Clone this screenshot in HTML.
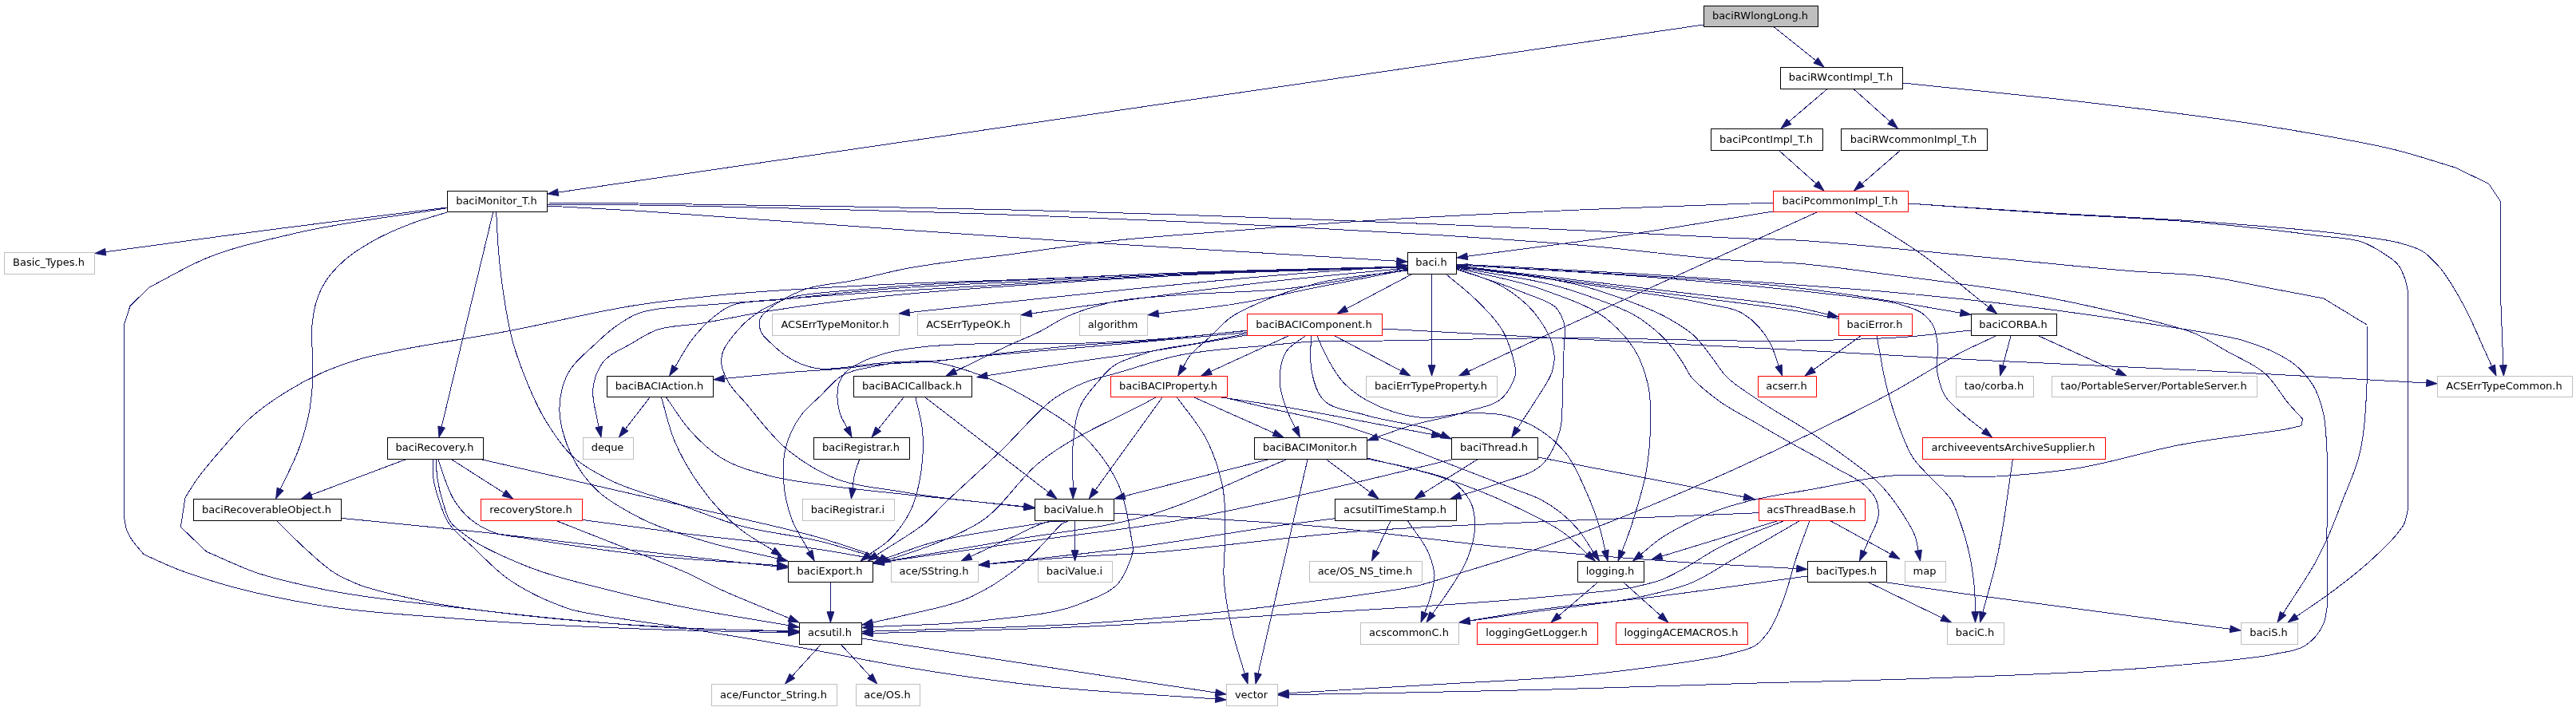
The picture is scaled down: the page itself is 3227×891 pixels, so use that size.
<!DOCTYPE html>
<html><head><meta charset="utf-8"><title>baciRWlongLong.h include graph</title>
<style>html,body{margin:0;padding:0;background:#fff}svg{display:block}text{font-family:"DejaVu Sans","Liberation Sans",sans-serif;font-size:13px;fill:#000;text-anchor:middle}.e path{fill:none;stroke:#191970;stroke-width:1;shape-rendering:crispEdges}.e polygon{fill:#191970;stroke:#191970;stroke-width:1}.n rect{stroke-width:1;shape-rendering:crispEdges}.t{filter:grayscale(1)}</style></head><body>
<svg width="3227" height="891" viewBox="0 0 3227 891">
<rect width="3227" height="891" fill="#fff"/>
<g class="e">
<path d="M2134,31L699.2,241.1"/>
<path d="M2222.5,34L2274.6,75.7"/>
<path d="M2288.5,112L2241.1,152.4"/>
<path d="M2322.5,112L2367.6,152.2"/>
<path d="M2384,104C2468.3,113 2552.8,120.8 2637,131C2703.8,139.1 2770.6,146.7 2837,157.5C2893.9,166.7 2965.2,178.3 3006.9,189.4C3030,195.5 3052.8,203.1 3075.8,210L3117.7,230.3L3132.4,252.4L3132.4,366.7C3133.6,397 3134.7,427.4 3135.9,457.7"/>
<path d="M2229,189L2275.1,230.1"/>
<path d="M2380,189L2332.5,230.3"/>
<path d="M2221,265C2158.3,275 2095.8,285.8 2033,295C1968.2,304.5 1903.1,312.5 1838.2,321.2"/>
<path d="M2276,266C2159.3,319 1977.9,400.9 1926,425C1897.2,438.4 1868.4,451.9 1839.6,465.4"/>
<path d="M2324,266C2349.3,281.9 2375.4,296.6 2400,313.6C2431.7,335.5 2460.7,361.1 2491.1,384.8"/>
<path d="M2391,255C2449.7,258.9 2508.3,263 2567,266.7C2633.9,270.9 2700.9,273.4 2767.7,278.4C2823.4,282.6 2890.4,287.4 2934.6,293.4C2959.1,296.8 2991.7,299.9 3008,305C3017.1,307.8 3026.9,310.1 3034.8,315C3042.4,319.7 3048.7,326.9 3054.8,333.5C3065.8,345.5 3075.9,363.9 3084.9,380C3095.1,398.3 3105.6,423.9 3111.6,437C3114.9,444.3 3118.2,451.6 3121.5,458.9"/>
<path d="M2391,255C2449.7,259.1 2508.3,263.5 2567,267.4C2633.9,271.9 2701,273.8 2767.7,280C2812.2,284.1 2864.9,290 2901,295C2921,297.8 2946.2,297.9 2961,304C2969.2,307.4 2977.2,311.9 2984.7,316.8C2991.6,321.4 2999.5,325.7 3004.4,332.2C3008.2,337.2 3010.7,343.5 3012.8,349.5C3014.7,355 3015.4,361 3016.7,366.7L3016.7,637C3014.9,643.7 3014.4,650.9 3011.4,657C3008.9,662 3004.9,666.3 3001.4,670.7C2995.1,678.6 2979.6,693.4 2968,704C2952.2,718.3 2935.2,731.3 2918,744C2904.6,753.9 2890.6,763 2876.9,772.4"/>
<path d="M2221,254C2144,256.8 2067,259.2 1990,262.5C1898.3,266.5 1806.6,270.5 1715,276.5C1654.8,280.4 1594.7,285.2 1534.6,290C1487.7,293.7 1440.7,296.7 1394,301.8C1351.7,306.4 1309.6,312.8 1267.4,318.5C1222.9,324.5 1174.4,328.9 1134,336.8C1111.5,341.2 1089.4,347.3 1067,351.9C1046.9,356 1025.3,356 1006.4,363.3C991.6,369 972.7,379 964.4,386.6C959.8,390.8 953.1,395 951.6,400.6C950.5,404.7 951.4,410.3 952.8,414.5C955.2,421.9 963.1,427.3 969,433C973.4,437.2 978,441.3 983,444.8C991.5,450.8 1001.1,455.8 1011,458.8C1017,460.6 1023.4,461.8 1029.6,462.3C1037.3,462.9 1045.2,461.6 1053,461C1067,459.9 1084,456.6 1099.5,455.3C1115,454 1132,452.8 1146,453C1153.8,453.1 1161.7,453.1 1169.4,454C1183.3,455.5 1200.8,460.8 1216,465.8C1243.3,474.7 1274.2,490.4 1300.8,506.8C1324.4,521.3 1349.3,536.4 1367.6,556.9C1380.8,571.6 1392.8,589 1401,607C1410.7,628.4 1416.6,670.3 1417.7,676.7C1418.3,680.3 1419.2,683.9 1419.4,687.4C1419.8,693.7 1410.6,719.5 1401,730.8C1389.4,744.3 1368.3,750.4 1351,757.5C1319.9,770.2 1273.2,772.8 1234,777.5C1187.4,783.1 1140.2,783 1093.3,785.7"/>
<path d="M560,260C484.7,269.5 409.3,278.7 334,288.5C266.7,297.3 199.5,306.6 132.2,315.7"/>
<path d="M560,260.7C495.7,271.5 430.4,277.9 367,293C331,301.6 294.2,309.1 260,323C234.8,333.2 211.3,347.7 187,360L163,383.5L155.3,407L155.3,647C156.4,652.6 156.7,658.4 158.6,663.7C159.9,667.3 161.7,670.7 163.6,674C167,679.9 174.5,687.8 180,694.7C193.3,700.6 206.5,707 220,712.4C238.6,719.8 257.8,725.8 277,731.5C311.5,741.7 354.7,750.7 394,757.5C451.2,767.3 509.7,770.1 567.6,774.9C664.8,782.9 783.4,787.7 860,790C902.6,791.3 945.1,791.8 987.7,792.7"/>
<path d="M560,266C545.8,270.5 531.4,274.2 517.5,279.4C500.4,285.8 483.3,292.8 467.5,301.8C454.7,309.1 441.6,316.9 430.7,326.8C422,334.7 413.4,343.5 407.3,353.5C402.3,361.6 398.4,370.8 395.7,380C393.4,387.6 392.4,395.7 391.3,403.6C389.3,417.8 393,463.3 391.3,483.4C390.4,494.6 389.3,505.8 387.3,516.8C384.3,532.7 379.6,548.4 374,563.5C368.5,578.4 355.7,603.4 354,607C353.1,609 352.1,611 351.2,612.9"/>
<path d="M617.7,266L553.1,535.1"/>
<path d="M621.7,266C622.6,281.8 623.1,297.7 624.4,313.5C626,332.4 628.1,351.3 631,370C634.1,390.1 637.2,410.4 642.8,430C646.7,443.8 651.7,457.4 657,470.8C664.2,488.9 671.7,507.1 681.6,523.8C692,541.2 703.4,559.4 718.3,572.8C731.2,584.4 747.5,592.9 763,601C788.5,614.3 817.5,620.4 844.8,630C871.9,639.5 898.5,650.8 926,658.5C959.9,668 995.8,670.4 1030,679C1054.6,685.2 1078.8,693.2 1103.2,700.3"/>
<path d="M686,258C724,260.1 762,262.1 800,264.3C868.4,268.3 1153.3,290.3 1330,301.7C1440,308.8 1606.2,318.4 1660,321.7C1689.9,323.5 1719.8,325.4 1749.7,327.2"/>
<path d="M686,254C724,254.3 762,254.6 800,255C868.4,255.7 1126.7,259.2 1290,263.5C1393.3,266.2 1496.7,269.7 1600,273.4C1666.7,275.8 1733.3,278.3 1800,281C1862,283.5 1924,286.1 1986,289C2048.3,291.9 2126.8,296.6 2173,298.4C2198.7,299.4 2224.4,299.8 2250,301C2296.2,303.2 2405.4,314.8 2483,322C2545,327.7 2609.8,334.8 2669,339.6C2701.9,342.3 2735.1,342.5 2767.7,346.9C2795.3,350.6 2822.6,357.2 2850,362.4C2870.3,366.2 2890.5,370.1 2910.8,374L2965,407C2965.1,418 2965.3,429 2965.3,440C2965.3,456.7 2965.6,473.4 2964.7,490C2963.2,518 2961.9,546.7 2954.7,573.6C2949.8,591.8 2941.5,609.3 2934.6,627C2928.1,643.6 2922.1,660.5 2914.6,676.7C2910.3,685.9 2905.8,695 2901,704C2892.4,720.1 2873.7,747.2 2860.1,768.8"/>
<path d="M686,256C724,256.3 762,256.5 800,257C868.4,257.8 1126.7,264 1290,270C1393.4,273.8 1496.7,278.2 1600,283.4C1666.7,286.8 1733.4,290.2 1800,294.5C1862,298.5 1924.1,302.5 1986,307.8C2048.4,313.1 2126.9,323.5 2173,326.4C2198.6,328 2224.4,328.1 2250,330C2289.1,333 2328.1,339.1 2367,344.2C2437.1,353.4 2523.8,363.3 2600.7,380C2652.3,391.2 2732.8,409.2 2754.3,420C2766.3,426 2777.7,433.3 2789.4,440C2805.6,449.3 2824.1,456.1 2837.8,468.4C2849.7,479.1 2858.1,495.6 2867.8,506.8C2873.2,513 2878.9,518.9 2884.5,525L2882.9,533.5L2861,538.5C2818.7,544.6 2776,549.2 2734,556.9C2689.2,565.1 2645.6,580.1 2600.7,587C2567.6,592.1 2534,595.2 2500.6,597C2456.2,599.4 2411.2,592 2367,596.3C2333.7,599.5 2300.8,607.7 2267.8,613.6C2243.3,618 2218.4,621 2194.3,627C2179.4,630.7 2164.4,634.7 2150,640C2124.7,649.3 2091.1,666.8 2077.5,676.7C2070,682.2 2063,688.6 2055.8,694.6"/>
<path d="M1763,334C1675.3,336.3 1587.6,337.9 1500,341C1429.3,343.5 1358.7,347.2 1288,350C1225.3,352.5 1162.6,353.8 1100,357C1033.3,360.4 960.1,363.9 900,370C866.6,373.4 833.2,377 800,382C744.4,390.3 689.7,405 634.4,415.3C590,423.6 530.9,432.3 500.8,438.7C484.1,442.2 467.2,445.2 450.8,450C433.8,455 416.9,461.1 400.7,468.4C385.8,475.2 371.2,483.1 357.3,491.8C342.2,501.3 327.2,511.6 313.9,523.5C300.4,535.5 288.9,549.8 277.1,563.5C266.7,575.5 256.1,587.4 247,600.3C241.7,607.8 237,615.8 232,623.6L226.4,660.4L258.8,691.4C279.4,700.1 299.5,710.1 320.5,717.4C348.6,727.1 378.1,732.9 407.3,739C459.8,749.9 514.1,754.4 567.6,760.8C664,772.4 783.5,784.1 860,787.5C902.5,789.4 945.1,789.6 987.7,790.7"/>
<path d="M1763,335C1675.3,337.7 1587.6,339.1 1500,343C1429.3,346.2 1358.7,350.9 1288,355C1225.3,358.6 1162.6,361.8 1100,366C1033.3,370.4 948,377.1 900,381C873.3,383.2 832.1,385.3 820,387.8C813.3,389.2 806.4,390.3 800,392.6C789.2,396.5 779.3,403.3 770,410C761.8,415.9 754.3,423 746.9,430C733.6,442.6 717.6,454.8 710,470.8C703.7,484.1 700.7,500.8 701,515.7C701.3,529.3 705.3,543.6 710,556.5C717.1,575.7 728.8,594.7 742.8,609.5C757.2,624.8 777.1,635.8 795.8,646C823.5,661.2 855.1,669.9 885.6,679C914.6,687.7 944.6,693 974.1,699.9"/>
<path d="M1763,335C1675.3,338 1587.6,339.7 1500,344C1433.3,347.3 1366.6,351.3 1300,356C1233.3,360.7 1166.5,364.7 1100,372C1049.9,377.5 992.1,384.9 950,392C926.6,396 903.4,401 880,405C860,408.4 837.7,407.4 820,414.5C810.2,418.5 801,424.5 791.8,430C779.2,437.5 763.3,443.2 755,454.5C748.5,463.4 744,475.8 742.8,487C741.6,497.6 745.2,510.6 746.9,519.8C747.9,524.9 749.1,529.9 750.2,535"/>
<path d="M1763,334C1675.3,336.7 1587.6,338.4 1500,342C1433.3,344.8 1366.7,348.5 1300,352C1233.3,355.5 1166.5,357.4 1100,363C1060.9,366.3 1021.9,370.3 983,375C959.6,377.8 927.6,376.7 913,384.3C904.9,388.5 897.1,394.5 890,400.6C881.3,408.1 873.6,416.9 866.6,426C858.6,436.4 852.7,448.5 845.7,459.7"/>
<path d="M1763,334C1675.3,336.3 1587.6,337.8 1500,341C1433.3,343.5 1366.7,346.7 1300,350C1233.3,353.3 1166.4,354.6 1100,361C1060.9,364.7 1003,367.1 983,375C971.9,379.4 960.4,384.3 950.4,391C938.2,399.2 926.6,409.8 917.8,421.5C912.9,428 907,434.8 905,442.5C903.9,446.9 903.5,451.9 903.9,456.5C904.6,464.6 909,472.6 913,479.8C918.3,489.2 926.9,496.7 934,505C946.8,520 967,548 987.6,564.6C1003.4,577.3 1021.5,588.7 1040,597C1068.8,609.9 1102.5,611.4 1134,617C1183.2,625.7 1233.2,629.2 1282.8,635.4"/>
<path d="M1763,333C1708.7,337 1654.3,340.5 1600,345C1539.9,350 1480,356.1 1420,362C1326.3,371.2 1232.8,381.7 1139.2,391.6"/>
<path d="M1763,336C1708.7,341.3 1654.2,345.9 1600,352C1539.9,358.7 1479.9,366.9 1420,375C1377.4,380.7 1334.8,386.9 1292.2,392.9"/>
<path d="M1763,338C1725.3,345.3 1687.6,352.5 1650,360C1617.5,366.5 1585.2,374.5 1552.5,380C1518.9,385.6 1485,388.7 1451.2,393"/>
<path d="M1763,337C1712.9,345.2 1663.1,356.2 1612.7,361.7C1566.4,366.8 1519.4,365.8 1473,370C1445.8,372.5 1417.9,372.8 1391.4,379C1372.6,383.4 1353.6,389 1336,397C1323.9,402.5 1312.9,410.4 1301,416.3C1289.4,422 1277.3,426.6 1265.5,432C1244.3,441.7 1219.8,454.1 1197,465.2"/>
<path d="M1763,339C1725.3,344.3 1686.7,345.6 1650,355C1625,361.4 1597.7,370.3 1576.3,380C1564.4,385.4 1551.9,390.4 1541.4,398C1532.7,404.4 1525.5,413 1517.6,420.5C1508.3,429.3 1494.5,439.9 1489.6,447C1486.9,450.9 1484.8,455.3 1482.4,459.5"/>
<path d="M1768,344L1686.8,386.8"/>
<path d="M1793.6,344L1793.6,457.7"/>
<path d="M1812,344C1824.8,355 1838.6,365 1850.4,377C1862.6,389.3 1875.7,401.9 1883.8,417C1890,428.6 1895.6,448.1 1897,455C1897.8,458.9 1898.8,462.9 1898.8,466.7C1898.8,473.5 1890.9,489 1883.8,496.8C1872.4,509.3 1850.7,511.1 1833.7,516.8C1812,524 1788.9,526.8 1767,533.5C1753.1,537.8 1739.4,542.9 1725.6,547.6"/>
<path d="M1825,336.8C1844.6,344.5 1866.1,349.1 1883.8,360C1897.1,368.2 1910.4,378.2 1920.5,390C1930.4,401.6 1940.8,418.5 1944,430C1945.8,436.4 1947.4,443.4 1947.2,450C1947,455.6 1945.5,461.3 1944,466.7C1941.2,476.4 1928.7,493.6 1920.5,506.8C1914.2,516.9 1907.5,526.8 1901,536.8"/>
<path d="M1825,337.5C1850.2,346.2 1876,353.3 1900.5,363.5C1917.5,370.6 1944.3,378.4 1950.6,387C1954.1,391.8 1957.1,397.8 1959,403.6C1962.3,414 1959.2,427.9 1959,440C1958.8,456.7 1958.1,473.3 1957.3,490C1956.5,506.7 1958.5,524.2 1954,540C1950,554.1 1943.5,569.6 1934,580C1920,595.4 1894.4,599.4 1873.8,607C1859.4,612.3 1844.4,616.3 1829.7,621"/>
<path d="M1825,336C1861.3,345.2 1899.1,350.5 1934,363.5C1962.8,374.2 1994.8,383.6 2017.4,403.6C2030.2,414.9 2042.6,428.6 2050.8,443.7C2056.8,454.9 2060.8,467.7 2064,480C2069.8,502.1 2068.4,555.4 2062.4,590C2059,609.2 2053,629.1 2047.4,647C2044.3,657 2040.6,668.3 2037.4,676.7C2035.6,681.4 2033.7,686 2031.9,690.6"/>
<path d="M1825,335C1872.4,344.5 1921.5,348.6 1967.3,363.5C1997.5,373.3 2037.4,387.2 2055.7,400C2065.9,407.1 2076,415.1 2084.6,424C2093.7,433.4 2103.3,446.9 2108.6,455.4C2111.6,460.1 2113.8,465.4 2116.9,470C2122.6,478.2 2138.6,491.3 2150.6,500.4C2166.2,512.3 2184.3,520.8 2201.3,530.8C2215.8,539.3 2230.4,547.7 2245,556C2264.1,566.8 2283.6,576.9 2302.5,588C2313.9,594.6 2327.1,599.5 2336.3,608.4C2341.4,613.4 2347,618.9 2349.8,625.3C2352.5,631.4 2353.5,638.9 2353.2,645.5C2352.7,654.8 2346.7,663.6 2343,672.5C2340.4,678.7 2337.6,684.7 2334.9,690.8"/>
<path d="M1825,334C1883.5,343.8 1944.7,345.9 2000.6,363.5C2031.7,373.3 2073.9,389.4 2091.8,400C2101.7,405.9 2112.1,411.7 2120.7,419.3C2129.9,427.5 2137.1,438.1 2144.7,448C2150.3,455.2 2154.8,463.3 2160.8,470C2171.7,482 2187.5,490.7 2201.3,500.4C2223,515.6 2246.7,527.9 2268.8,542.6C2285.9,554 2303,565.6 2319.4,578C2330.9,586.7 2343.1,594.9 2353.2,605C2363.3,615.1 2372.3,626.8 2380.2,638.8C2388,650.5 2398.2,667.9 2400.4,676C2401.6,680.5 2402.2,685.3 2403,689.9"/>
<path d="M1825,333.5C1894.7,343.5 1973.8,354 2034,363.5C2067.4,368.8 2103.9,372.9 2134.2,380C2151,384 2170.2,384.8 2184.3,393.6C2197.8,402 2209.9,416 2217.7,430.3C2222.4,439 2224.6,449.1 2228.1,458.5"/>
<path d="M1825,333C1900,342 1975,350.8 2050,360C2116.7,368.2 2225.9,380 2250,385C2263.4,387.8 2276.7,391 2290,394.1"/>
<path d="M2303,399.5C2285.3,396.2 2267.7,392.8 2250,389.7C2218.1,384.2 2116.7,371.9 2050,363C1979.4,353.6 1908.8,344.2 1838.2,334.8"/>
<path d="M1825,332C1900,336.3 1975.1,339.9 2050,345C2116.7,349.5 2183.6,352.7 2250,360.5C2288.9,365.1 2327.8,370.9 2366.5,377C2396.3,381.7 2426.1,387.1 2455.9,392.1"/>
<path d="M1825,332C1900,336.7 1975.1,340.2 2050,346C2116.7,351.1 2208,359.5 2250,364C2273.3,366.5 2296.7,368.8 2320,372C2340.2,374.8 2363.2,376 2380.4,381.5C2389.9,384.6 2400.7,386.9 2408.4,393C2413.9,397.3 2419.3,403.2 2422.4,409.5C2425.5,415.7 2426,423.4 2427,430.4C2428.6,442.3 2425,454.9 2427,466.7C2428.8,477 2431.6,488 2437,496.8C2442.6,505.9 2452.3,512.7 2460.5,520C2468.3,527 2476.9,533.1 2485.1,539.7"/>
<path d="M1825,331C1900,335 1975,338.3 2050,343C2116.7,347.1 2183.4,352 2250,357C2289,359.9 2328,362.5 2367,366C2437.1,372.2 2511.9,380.2 2584,390C2659.9,400.3 2789.8,419.8 2811,427C2822.8,431 2834.8,434.6 2846,440C2855.9,444.8 2866.1,449.8 2874.5,456.7C2883.5,464.1 2891.9,473.4 2897.9,483.4C2904.4,494.3 2908.2,507.4 2911,520C2913.6,532 2913.7,544.6 2914.6,556.9C2916.3,579.1 2914.9,636.8 2915,676.7C2915.1,704.7 2917.2,748.7 2915.2,760.8C2914.1,767.5 2913.5,774.7 2911,780.9C2906.6,791.9 2897.5,802.5 2888,809C2877.1,816.5 2861.3,816.8 2847.8,820C2823.5,825.7 2749.9,831.6 2700.9,836C2612.6,843.9 2466.6,848.4 2367,851.7C2311.7,853.5 2256.3,854.5 2201,856C2112,858.5 2023,862 1934,864.3C1827.4,867.1 1720.9,868.6 1614.3,870.7"/>
<path d="M1562,414.2C1514.7,419 1456,426 1420,428.5C1400,429.9 1380,430.5 1360,432C1324,434.6 1278.4,440.1 1237.6,444.7C1214.3,447.3 1191.1,451.1 1167.7,453C1149.1,454.5 1130.4,454.6 1111.8,456C1088.5,457.7 1065.3,461.2 1042,463C1028,464.1 1014,464.7 1000,465.7C974.8,467.6 938.2,471.5 907.2,474.5"/>
<path d="M1562,420C1522.3,426.7 1482.8,434 1443,440C1415.4,444.2 1387.6,447.7 1360,451.7C1318.9,457.7 1277.8,464.4 1236.7,470.7"/>
<path d="M1562,416.6C1514.7,421 1467.3,425.4 1420,429.7C1359.2,435.2 1279.6,441.5 1237.6,445.5C1214.3,447.7 1184.4,451.7 1167.7,452.4C1158.4,452.8 1149.1,452.4 1139.8,453C1125.7,453.9 1111.6,455.9 1097.8,458.7C1083.7,461.5 1068.2,463.1 1056,470C1044.9,476.3 1036.5,487.7 1027,496.8C1019.2,504.3 1010.4,511.3 1004,519.8C994.3,532.7 986.9,548.8 983.5,564.6C980.9,576.4 980.8,589.2 981.5,601.4C982.4,617.9 986,634.9 991.7,650.3C997.1,664.7 1006.5,677.6 1013.9,691.3"/>
<path d="M1614,421L1516.6,465.5"/>
<path d="M1562,418C1542.5,421.8 1523.1,425.7 1503.6,429.5C1480.3,434 1456.1,435.5 1433.7,443C1419.4,447.8 1403.1,451.9 1391.8,461C1385.5,466 1380.3,472.8 1375,479C1367.5,487.8 1359.3,496.7 1354.3,506.8C1346.9,521.7 1345.9,540 1344.2,556.9C1342.3,575 1344.2,593.4 1344.2,611.7"/>
<path d="M1635,421C1627.2,427.3 1617,432.2 1611.7,440C1604.4,450.6 1602.8,466.8 1603.3,480C1603.8,492.4 1608.7,505 1613.4,516.8C1616,523.4 1619.6,529.6 1622.6,536"/>
<path d="M1643,421C1642.6,427.3 1641.8,433.7 1641.7,440C1641.6,448.9 1641.7,458.1 1643.4,466.7C1645.7,478.3 1649.7,491.6 1656.8,500C1668,513.4 1691.9,514.4 1710,520C1735,527.7 1775.6,532.5 1787,536.8C1793.3,539.2 1799.5,542.1 1805.8,544.8"/>
<path d="M1650,421C1652.8,427.3 1655.3,433.8 1658.4,440C1663.9,451.1 1673,468.8 1683.5,480C1696.8,494 1715.5,504.5 1733.6,511.8C1749.2,518.1 1766.8,522.4 1783.6,523.5C1801.3,524.7 1819.4,518.1 1837.4,517.8C1853.9,517.5 1871.1,517.1 1887,521C1901.9,524.7 1917.1,531.1 1930,539.5C1941.5,547 1952.3,556.7 1961,567.3C1972,580.7 1978.8,597.7 1986,613.7C1993.3,629.7 2000,647.3 2004.5,663.2C2007,672 2008.8,681.1 2010.9,690.1"/>
<path d="M1672,421L1755.2,464.8"/>
<path d="M1732,412C1804.9,415.9 1877.7,419.9 1950.6,423.7C2050.4,428.9 2150.2,433.3 2250,438.6C2327.7,442.7 2405.3,447.4 2483,451.4C2576,456.2 2669,459.7 2762,464.5C2854.6,469.3 2947.1,474.8 3039.7,480"/>
<path d="M2331,421L2271.8,463.3"/>
<path d="M2351,421C2352.2,427.3 2353.4,433.7 2354.6,440C2356.5,450 2357.9,460.1 2360,470C2362,479.1 2364.2,488.1 2366.7,497C2370.5,510.7 2374.8,524.3 2380,537.5C2385,550.1 2389.5,563.5 2397,574.6C2403.3,583.9 2412.3,591.6 2420,600C2428.2,609 2438.5,616.7 2444.7,627C2449.6,635.2 2452.3,644.9 2455.5,654C2460.1,667.1 2464.1,680.5 2467,694C2470.8,711.5 2473.5,736 2474,747.5C2474.3,753.9 2474.2,760.3 2474.3,766.7"/>
<path d="M2469,414C2442.7,416.7 2416.4,420 2390,422C2343.5,425.6 2296.7,426 2250,427C2166,428.8 2050,423.3 1950,423.7C1877.7,424 1788.8,426.2 1733,427C1702,427.4 1670.9,426.4 1640,428.3C1622.3,429.4 1604.7,431.3 1587,433C1555.2,436.1 1511.6,437.8 1475,445.7C1450,451.1 1425.7,459.9 1401,467C1387.2,471 1373,473.7 1359.7,479C1347.5,483.9 1335.5,490 1324.4,496.8C1304.4,509.1 1276.5,543.5 1252.2,566.6C1228.3,589.3 1191.8,622.1 1180,634C1173.5,640.6 1167.4,647.7 1160.6,654C1148.3,665.3 1118.9,681.8 1098.1,695.6"/>
<path d="M1562,414.5C1524.7,418 1487.4,422.3 1450,425C1420,427.2 1390,429.2 1360,430C1333.4,430.7 1306.7,430 1280,430.3C1256.5,430.5 1233,430.4 1209.6,431.4C1191,432.2 1172.2,432.7 1153.7,435C1139.7,436.7 1125.4,438.3 1111.8,442C1101.3,444.9 1090.7,448.2 1081,453C1073.2,456.9 1063.8,461.1 1058.7,467C1055.9,470.3 1053.3,474.3 1051.7,478.3C1049.1,484.6 1048.8,492.1 1049,499C1049.2,506 1050.7,513.3 1053,520C1055,525.6 1058.4,530.7 1061.1,536.1"/>
<path d="M2500.4,421C2486.9,427.3 2473.3,433.4 2460,440C2436.1,452 2398.4,476.4 2367,493.4C2334.4,511 2301.1,527.3 2267.8,543.5C2207.8,572.7 2135.1,605.8 2067.4,633.7C2026.3,650.6 1984.9,667.3 1943,682C1904.6,695.5 1854.5,710.5 1826.6,719C1811.1,723.7 1795.6,728.8 1780,733C1751.8,740.5 1660.2,751.6 1600,759C1522.8,768.4 1445.2,775.6 1367.6,780.9C1276.3,787.1 1184.7,787.7 1093.3,791.1"/>
<path d="M2519,421L2509,458.2"/>
<path d="M2554,421L2651.9,465.5"/>
<path d="M814,498L783.5,537.5"/>
<path d="M828.5,498C833.9,516 837.6,534.8 844.8,552C853.2,572.2 864.6,591.8 877.4,609.5C891.4,628.9 907.8,647.5 926.4,662.5C939.3,672.9 954.3,680.7 968.3,689.7"/>
<path d="M834.6,498C844.7,512 853.4,527.3 865,540C876,552.1 888.4,564 902,572.8C921.1,585.1 944.7,591.2 967,597C987.5,602.4 1009,604.4 1030,607.5C1067.9,613.2 1121.3,618.1 1167,623C1205.6,627.1 1244.2,630.8 1282.8,634.7"/>
<path d="M1132,498L1100.3,537.6"/>
<path d="M1147,498C1149.9,512 1154.3,525.9 1155.6,540C1157.2,556.5 1156.4,573.6 1154,590C1151.5,607 1148.1,624.8 1140.6,640C1134,653.3 1124.8,666.4 1113.9,676.7C1106.4,683.8 1097.1,689 1088.7,695.1"/>
<path d="M1159,498L1313.5,616.9"/>
<path d="M1447.7,498C1398.6,525.7 1343.1,545.1 1300.3,581C1275.8,601.5 1258.6,632 1233,650.6C1200.6,674.1 1128.6,696.7 1120.5,699C1116,700.3 1111.4,701.4 1106.9,702.6"/>
<path d="M1456,498L1372.1,614.2"/>
<path d="M1474.5,498C1486.7,515.3 1501.5,531.3 1511,550C1520.1,567.8 1526.9,587.5 1531,607C1535.7,629.5 1534.7,653.5 1534.6,676.7C1534.6,691.4 1532.5,706.2 1533,720.8C1533.9,745.4 1538.9,770 1544.6,794C1548.6,810.9 1554.4,827.5 1559.3,844.2"/>
<path d="M1496,498L1595.9,542.6"/>
<path d="M1530,498C1553.3,501.5 1576.7,504.7 1600,508.4C1641.9,515 1729.3,532.4 1793.9,544.4"/>
<path d="M1533,498C1552,502.5 1571,507.1 1590,511.6C1620.9,518.9 1652.4,524.3 1682.8,533.3C1701.6,538.8 1720.1,545.4 1738.5,551.9C1765.6,561.5 1792.1,572.5 1818.9,582.8C1845.7,593.1 1880.9,606.4 1899.3,613.7C1909.5,617.8 1920.3,620.9 1930,626C1947.4,635.2 1963.8,648.2 1976.6,663.2C1984.1,671.9 1989.6,682.4 1996.1,692"/>
<path d="M1076.5,576C1074.3,583 1071.4,589.8 1070,597C1069,601.9 1068.7,606.9 1068.1,611.8"/>
<path d="M1588,576L1408.9,621.7"/>
<path d="M1611.4,576C1552.4,599.7 1495.3,630 1434.4,647C1380.2,662.1 1323.1,667 1267.4,676.7C1214,686 1160.5,694.8 1107.1,703.8"/>
<path d="M1638,576C1630.2,609.6 1622.5,643.1 1614.7,676.7C1601.8,732.5 1588.9,788.3 1576,844"/>
<path d="M1661.8,576L1716.4,617"/>
<path d="M1713,574C1744.2,582.1 1776,588.3 1806.5,598.3C1838.1,608.6 1869.4,620.9 1899.3,635.4C1920.4,645.7 1943.5,656 1961,669.4C1970.7,676.8 1979.3,685.9 1988.4,694.1"/>
<path d="M1713,575C1733.9,579.7 1755.2,582.8 1775.6,589C1792.4,594.1 1812.3,596.4 1825,607.5C1832.5,614 1839.8,623 1843.6,632.3C1847.4,641.6 1847.9,653.1 1847.5,663.3C1847,675.9 1842.7,688.8 1838,700.6C1832.5,714.6 1823.3,727.2 1815,740C1808.6,749.9 1801.4,759.4 1794.6,769.1"/>
<path d="M1818,576C1765.3,588.5 1712.8,601.7 1660,613.6C1596.2,627.9 1532.3,642.7 1467.8,653.7C1412.4,663.1 1356.5,668.9 1300.8,676.7C1236.2,685.7 1171.7,695 1107.2,704.1"/>
<path d="M1850.4,576L1783.3,618"/>
<path d="M1927,573L2184.6,622.8"/>
<path d="M2521.3,576C2518.9,593 2516.4,610.8 2514,627C2512.7,636 2511.5,645 2510,654C2507.4,670.2 2504.3,687.5 2500.6,704C2495.9,725.2 2489.5,746.1 2483.9,767.1"/>
<path d="M507.5,576L389.7,620.3"/>
<path d="M566,576L631.5,617.8"/>
<path d="M604.3,576C670.9,591.3 737.5,606.4 804,621.8C879.4,639.3 985.7,661.3 1030,674.8C1054.6,682.3 1078.9,690.8 1103.4,698.9"/>
<path d="M549,576C551.3,583 553.4,590.1 556,597C559.8,607.2 563.3,617.9 569,627C574.4,635.6 581.3,643.9 589,650.4C597.3,657.4 607.6,663 617.7,667C631.1,672.3 646.5,672.3 661,674.8C687,679.3 756.2,689.8 804,695.2C860.4,701.6 917.2,704 973.7,708.5"/>
<path d="M546,576C546.7,584 546.8,592.1 548,600C549.5,610.1 551.9,620.2 555,630C557.6,638.2 559.6,647.1 564.3,654C569.9,662.2 579.4,667.9 587.6,674C602.3,684.9 631.5,697.9 654.4,707.4C690.7,722.5 729.8,731 768,740.8C798.4,748.6 829.2,755.2 860,761.5C902.4,770.1 945.3,776.3 987.9,783.7"/>
<path d="M542.6,576C542.6,583 542,590.1 542.6,597C543.7,608.3 547.3,619.5 551,630.3C553.8,638.4 556.7,646.7 561,654C568.7,667.1 583,676.5 594.3,687.4C607.4,699.9 619.8,713.4 634.4,724C645.8,732.3 658.3,739.4 671,745.8C683.9,752.3 697.6,757.6 711.2,762.5C735.7,771.2 810.4,779.2 860,787.5C906.7,795.3 953.4,802.7 1000,811C1044.7,818.9 1089.1,828.6 1133.9,836C1189.3,845.2 1245,853.1 1300.8,859.3C1374.5,867.5 1448.8,870.4 1522.7,876"/>
<path d="M428,649.4C485.3,655.1 542.7,660.5 600,666.6C686.8,675.9 791.7,689.7 860,697.4C897.9,701.7 935.9,705.8 973.8,710"/>
<path d="M347.2,653C359.5,665 371.2,677.6 384,689C395.8,699.5 407.2,711 420.7,719C429.1,724 438.3,728 447.4,731.8C463.7,738.7 505,747.9 534.2,754C578.1,763.2 623.1,767.5 667.8,772.5C731.6,779.7 795.8,783.7 860,787C902.5,789.2 945.1,790 987.7,791.5"/>
<path d="M698,653C753.7,675.3 843.9,709.8 865,720C876.7,725.7 888.2,731.9 900,737.5C921.2,747.6 959.2,762.4 988.7,774.8"/>
<path d="M730,651.5C773.3,657.3 816.6,663.5 860,669C916.6,676.2 986.2,682.1 1030,689C1054.4,692.8 1078.6,697.5 1102.9,701.7"/>
<path d="M1346.6,653L1346.6,689.7"/>
<path d="M1396,643C1484,648.8 1572.2,652.3 1660,660.4C1729.1,666.8 1797.9,677 1867,684C1944.8,691.8 2022.8,698.7 2100.8,704C2150.7,707.4 2200.7,709.8 2250.7,712.6"/>
<path d="M1320,653C1269,662 1203.7,669.3 1167,680C1146.6,686 1126.7,693.8 1106.6,700.7"/>
<path d="M1335,653C1328,653.2 1320.8,652.8 1314,653.7C1301.7,655.3 1278.4,668.8 1260.7,676.7C1245.7,683.4 1230.9,690.5 1216.1,697.4"/>
<path d="M1338,653C1335.6,654 1333.2,654.9 1330.9,656C1326.7,658 1301,689.7 1284,704C1263.8,720.9 1241.2,736.5 1217.4,747.5C1191.5,759.5 1158.5,765 1134,770.9C1120.4,774.2 1106.7,777 1093,780.1"/>
<path d="M1672,649.7C1651.2,652.4 1630.3,654.9 1609.5,657.7C1572,662.7 1481.3,678.2 1417,686.6C1357.9,694.3 1298.5,699.9 1239.2,706.5"/>
<path d="M1742,653L1724.2,691"/>
<path d="M1763.6,653C1772.4,666.7 1784.2,679 1790,694C1793.3,702.5 1796.6,711.8 1797,720.8C1797.5,731.8 1792.7,745.7 1790,754C1788.5,758.6 1786.5,763.1 1784.8,767.6"/>
<path d="M2203,642.7C2113.3,646.4 2023.6,649.5 1934,653.7C1856,657.4 1777.9,660.1 1700,666C1613.5,672.6 1498.7,688.6 1441,692.6C1408.9,694.8 1376.8,695.8 1344.7,698C1309.5,700.4 1274.4,703.9 1239.3,706.9"/>
<path d="M2226,653L2081.7,697.1"/>
<path d="M2254,653C2228,668 2202.1,683.2 2176,698C2156.6,709 2138.3,722.5 2117.8,730.8C2099.3,738.3 2079.1,742.4 2059.5,747C2024.2,755.3 1966.4,760.4 1919.8,767C1893.6,770.7 1867.4,774.4 1841.2,778.1"/>
<path d="M2234,653C2206.9,664.2 2178.6,673 2152.7,686.6C2136.7,695 2119.7,707.3 2106,714.5C2098.4,718.5 2090.8,722.8 2082.8,726C2071.7,730.4 2059.7,732.7 2048,735.5C2027,740.5 1962.6,745.5 1919.8,749.5C1873.3,753.8 1826.6,756.8 1780,760C1720,764.1 1660,767.3 1600,770.9C1522.5,775.6 1445.1,781.2 1367.6,784.9C1276.2,789.2 1184.7,790.7 1093.3,793.6"/>
<path d="M2266.8,653C2261.4,668 2255.6,682.9 2250.5,698C2244.5,715.8 2240.9,734.4 2234,751.8C2228.7,765.3 2223.3,781 2215.6,791.4C2211.3,797.2 2206.6,803.3 2201,807.6C2191.9,814.5 2178.8,815.8 2167.6,819.3C2147.4,825.6 2056.5,838.1 2000.6,844.3C1934.2,851.7 1867.1,853.5 1800.3,857.7C1738.3,861.6 1676.3,865 1614.3,868.6"/>
<path d="M2293.6,653L2368.4,694.2"/>
<path d="M2001.3,730L1953.1,771.3"/>
<path d="M2034,730L2079.9,771.1"/>
<path d="M2264,722C2195.8,731.2 2127.8,741.3 2059.5,749.5C2013,755.1 1966.2,758.3 1919.8,765C1893.5,768.8 1867.4,773.6 1841.1,777.9"/>
<path d="M2341.2,730L2432.7,774.2"/>
<path d="M2364,730C2396,734.7 2428,739.4 2460,744C2517.6,752.2 2682.5,773.5 2793.8,788.3"/>
<path d="M1040.4,730L1040.4,766.7"/>
<path d="M1028,808L992.5,847.1"/>
<path d="M1053.8,808L1089.8,847.2"/>
<path d="M1080,800C1153.6,811.4 1227.2,823 1300.8,834.3C1374.8,845.7 1448.8,856.8 1522.9,868"/>
<path d="M1740,335.5L1749.8,334.2"/>
<polygon points="686,243 698.5,236.7 699.8,245.4"/>
<polygon points="2285,84 2271.9,79.1 2277.4,72.3"/>
<polygon points="2231,161 2238.3,149 2244,155.7"/>
<polygon points="2377.5,161 2364.6,155.4 2370.5,148.9"/>
<polygon points="3136.4,471 3131.5,457.9 3140.3,457.5"/>
<polygon points="2285,239 2272.1,233.4 2278,226.9"/>
<polygon points="2322.5,239 2329.6,227 2335.4,233.6"/>
<polygon points="1825,323 1837.6,316.9 1838.8,325.6"/>
<polygon points="1827.5,471 1837.7,461.4 1841.4,469.4"/>
<polygon points="2501.6,393 2488.4,388.3 2493.8,381.3"/>
<polygon points="3127,471 3117.5,460.7 3125.5,457.1"/>
<polygon points="2866,780 2874.4,768.8 2879.4,776"/>
<polygon points="1080,786.5 1093,781.3 1093.5,790.1"/>
<polygon points="119,317.5 131.6,311.4 132.8,320.1"/>
<polygon points="1001,793 987.6,797.1 987.8,788.3"/>
<polygon points="345.6,625 347.2,611.1 355.2,614.8"/>
<polygon points="550,548 548.8,534 557.4,536.1"/>
<polygon points="1116,704 1102,704.5 1104.5,696.1"/>
<polygon points="1763,328 1749.5,331.6 1750,322.8"/>
<polygon points="2853,780 2856.4,766.4 2863.8,771.1"/>
<polygon points="2045.5,703 2053,691.2 2058.6,698"/>
<polygon points="1001,791 987.6,795.1 987.8,786.3"/>
<polygon points="987,703 973,704.2 975.1,695.7"/>
<polygon points="753,548 745.9,535.9 754.5,534.1"/>
<polygon points="838.7,471 842,457.4 849.4,462"/>
<polygon points="1296,637 1282.3,639.7 1283.3,631"/>
<polygon points="1126,393 1138.8,387.2 1139.7,396"/>
<polygon points="1279,394.7 1291.6,388.5 1292.8,397.2"/>
<polygon points="1438,394.7 1450.6,388.6 1451.8,397.4"/>
<polygon points="1185,471 1195.1,461.2 1198.9,469.2"/>
<polygon points="1475.7,471 1478.6,457.3 1486.2,461.7"/>
<polygon points="1675,393 1684.7,382.9 1688.8,390.7"/>
<polygon points="1793.6,471 1789.2,457.7 1798,457.7"/>
<polygon points="1713,551.9 1724.2,543.4 1727,551.8"/>
<polygon points="1893.8,548 1897.3,534.4 1904.7,539.2"/>
<polygon points="1817,625 1828.3,616.8 1831,625.2"/>
<polygon points="2027,703 2027.8,689 2036,692.2"/>
<polygon points="2329.5,703 2330.9,689.1 2338.9,692.6"/>
<polygon points="2405.5,703 2398.7,690.7 2407.4,689.1"/>
<polygon points="2232.7,471 2224,460 2232.2,457"/>
<polygon points="2303,397 2289.1,398.4 2291,389.8"/>
<polygon points="1825,333 1838.8,330.4 1837.6,339.1"/>
<polygon points="2469,394.3 2455.2,396.4 2456.6,387.7"/>
<polygon points="2495.5,548 2482.4,543.1 2487.9,536.3"/>
<polygon points="1601,871 1614.2,866.3 1614.4,875.1"/>
<polygon points="894,475.7 906.8,470.1 907.7,478.8"/>
<polygon points="1223.6,472.7 1236.1,466.3 1237.4,475"/>
<polygon points="1020.2,703 1010,693.4 1017.7,689.2"/>
<polygon points="1504.5,471 1514.8,461.5 1518.4,469.5"/>
<polygon points="1344.2,625 1339.8,611.7 1348.6,611.7"/>
<polygon points="1628.4,548 1618.7,537.9 1626.6,534.1"/>
<polygon points="1818,550 1804,548.8 1807.5,540.7"/>
<polygon points="2014,703 2006.6,691.1 2015.2,689"/>
<polygon points="1767,471 1753.2,468.7 1757.3,460.9"/>
<polygon points="3053,480.7 3039.5,484.4 3040,475.6"/>
<polygon points="2261,471 2269.3,459.7 2274.4,466.8"/>
<polygon points="2474.5,780 2469.9,766.8 2478.7,766.6"/>
<polygon points="1087,703 1095.6,692 1100.5,699.3"/>
<polygon points="1067,548 1057.1,538.1 1065,534.1"/>
<polygon points="1080,791.6 1093.1,786.7 1093.5,795.5"/>
<polygon points="2505.6,471 2504.8,457 2513.3,459.3"/>
<polygon points="2664,471 2650.1,469.5 2653.7,461.5"/>
<polygon points="775.4,548 780,534.8 787,540.2"/>
<polygon points="979.4,697 965.9,693.4 970.7,686.1"/>
<polygon points="1296,636 1282.3,639 1283.2,630.3"/>
<polygon points="1092,548 1096.9,534.9 1103.7,540.4"/>
<polygon points="1078,703 1086.1,691.6 1091.3,698.7"/>
<polygon points="1324,625 1310.8,620.4 1316.1,613.4"/>
<polygon points="1094,706 1105.7,698.3 1108,706.9"/>
<polygon points="1364.3,625 1368.5,611.6 1375.7,616.8"/>
<polygon points="1563,857 1555,845.5 1563.5,843"/>
<polygon points="1608,548 1594.1,546.6 1597.6,538.6"/>
<polygon points="1807,546.8 1793.1,548.7 1794.7,540"/>
<polygon points="2003.6,703 1992.5,694.5 1999.8,689.5"/>
<polygon points="1066.4,625 1063.7,611.2 1072.5,612.4"/>
<polygon points="1396,625 1407.8,617.4 1410,626"/>
<polygon points="1094,706 1106.4,699.4 1107.8,708.1"/>
<polygon points="1573,857 1571.7,843.1 1580.3,845"/>
<polygon points="1727,625 1713.7,620.5 1719,613.5"/>
<polygon points="1998.3,703 1985.5,697.4 1991.4,690.8"/>
<polygon points="1787,780 1791,766.6 1798.2,771.6"/>
<polygon points="1094,706 1106.6,699.8 1107.8,708.5"/>
<polygon points="1772,625 1780.9,614.2 1785.6,621.7"/>
<polygon points="2197.7,625.3 2183.8,627.1 2185.5,618.5"/>
<polygon points="2480.5,780 2479.6,766 2488.2,768.3"/>
<polygon points="377.3,625 388.2,616.2 391.3,624.4"/>
<polygon points="642.7,625 629.1,621.5 633.9,614.1"/>
<polygon points="1116,703 1102,703 1104.7,694.7"/>
<polygon points="987,709.5 973.4,712.9 974.1,704.1"/>
<polygon points="1001,786 987.1,788.1 988.6,779.4"/>
<polygon points="1536,877 1522.4,880.4 1523.1,871.6"/>
<polygon points="987,711.5 973.3,714.4 974.3,705.7"/>
<polygon points="1001,792 987.6,795.9 987.9,787.1"/>
<polygon points="1001,780 987,778.9 990.4,770.8"/>
<polygon points="1116,704 1102.1,706 1103.7,697.4"/>
<polygon points="1346.6,703 1342.2,689.7 1351,689.7"/>
<polygon points="2264,713.4 2250.5,717 2251,708.2"/>
<polygon points="1094,705 1105.2,696.5 1108,704.9"/>
<polygon points="1204,703 1214.2,693.4 1217.9,701.4"/>
<polygon points="1080,783 1092,775.8 1093.9,784.4"/>
<polygon points="1226,708 1238.7,702.1 1239.7,710.9"/>
<polygon points="1718.5,703 1720.2,689.1 1728.1,692.8"/>
<polygon points="1780,780 1780.7,766 1788.9,769.2"/>
<polygon points="1226,708 1238.9,702.5 1239.6,711.3"/>
<polygon points="2069,701 2080.4,692.9 2083,701.3"/>
<polygon points="1828,780 1840.6,773.8 1841.8,782.5"/>
<polygon points="1080,794 1093.2,789.2 1093.4,798"/>
<polygon points="1601,869.4 1614,864.2 1614.5,873"/>
<polygon points="2380,700.6 2366.2,698 2370.5,690.3"/>
<polygon points="1943,780 1950.2,768 1956,774.7"/>
<polygon points="2089.8,780 2077,774.4 2082.8,767.8"/>
<polygon points="1828,780 1840.4,773.5 1841.8,782.2"/>
<polygon points="2444.7,780 2430.8,778.2 2434.6,770.3"/>
<polygon points="2807,790 2793.2,792.6 2794.4,783.9"/>
<polygon points="1040.4,780 1036,766.7 1044.8,766.7"/>
<polygon points="983.6,857 989.3,844.2 995.8,850.1"/>
<polygon points="1098.8,857 1086.6,850.2 1093,844.2"/>
<polygon points="1536,870 1522.2,872.4 1523.5,863.7"/>
<polygon points="1763,332.5 1750.4,338.6 1749.2,329.9"/>
</g>
<g class="n">
<rect x="2134.5" y="7.5" width="143" height="26" fill="#bfbfbf" stroke="#000"/>
<rect x="2230.5" y="84.5" width="153" height="27" fill="#fff" stroke="#000"/>
<rect x="2143.5" y="161.5" width="140" height="27" fill="#fff" stroke="#000"/>
<rect x="2306.5" y="161.5" width="183" height="27" fill="#fff" stroke="#000"/>
<rect x="560.5" y="239.5" width="125" height="26" fill="#fff" stroke="#000"/>
<rect x="2221.5" y="239.5" width="169" height="26" fill="#fff" stroke="#ff0000"/>
<rect x="5.5" y="316.5" width="113" height="27" fill="#fff" stroke="#bfbfbf"/>
<rect x="1763.5" y="316.5" width="61" height="27" fill="#fff" stroke="#000"/>
<rect x="967.5" y="393.5" width="159" height="27" fill="#fff" stroke="#bfbfbf"/>
<rect x="1149.5" y="393.5" width="129" height="27" fill="#fff" stroke="#bfbfbf"/>
<rect x="1352.5" y="393.5" width="85" height="27" fill="#fff" stroke="#bfbfbf"/>
<rect x="1562.5" y="393.5" width="169" height="27" fill="#fff" stroke="#ff0000"/>
<rect x="2303.5" y="393.5" width="92" height="27" fill="#fff" stroke="#ff0000"/>
<rect x="2469.5" y="393.5" width="107" height="27" fill="#fff" stroke="#000"/>
<rect x="760.5" y="471.5" width="133" height="26" fill="#fff" stroke="#000"/>
<rect x="1069.5" y="471.5" width="148" height="26" fill="#fff" stroke="#000"/>
<rect x="1391.5" y="471.5" width="146" height="26" fill="#fff" stroke="#ff0000"/>
<rect x="1711.5" y="471.5" width="164" height="26" fill="#fff" stroke="#bfbfbf"/>
<rect x="2202.5" y="471.5" width="73" height="26" fill="#fff" stroke="#ff0000"/>
<rect x="2450.5" y="471.5" width="97" height="26" fill="#fff" stroke="#bfbfbf"/>
<rect x="2570.5" y="471.5" width="257" height="26" fill="#fff" stroke="#bfbfbf"/>
<rect x="3053.5" y="471.5" width="169" height="26" fill="#fff" stroke="#bfbfbf"/>
<rect x="485.5" y="548.5" width="120" height="27" fill="#fff" stroke="#000"/>
<rect x="730.5" y="548.5" width="63" height="27" fill="#fff" stroke="#bfbfbf"/>
<rect x="1019.5" y="548.5" width="120" height="27" fill="#fff" stroke="#000"/>
<rect x="1571.5" y="548.5" width="141" height="27" fill="#fff" stroke="#000"/>
<rect x="1818.5" y="548.5" width="108" height="27" fill="#fff" stroke="#000"/>
<rect x="2408.5" y="548.5" width="229" height="27" fill="#fff" stroke="#ff0000"/>
<rect x="242.5" y="625.5" width="185" height="27" fill="#fff" stroke="#000"/>
<rect x="602.5" y="625.5" width="127" height="27" fill="#fff" stroke="#ff0000"/>
<rect x="1005.5" y="625.5" width="115" height="27" fill="#fff" stroke="#bfbfbf"/>
<rect x="1296.5" y="625.5" width="99" height="27" fill="#fff" stroke="#000"/>
<rect x="1672.5" y="625.5" width="152" height="27" fill="#fff" stroke="#000"/>
<rect x="2203.5" y="625.5" width="133" height="27" fill="#fff" stroke="#ff0000"/>
<rect x="987.5" y="703.5" width="106" height="26" fill="#fff" stroke="#000"/>
<rect x="1116.5" y="703.5" width="109" height="26" fill="#fff" stroke="#bfbfbf"/>
<rect x="1300.5" y="703.5" width="93" height="26" fill="#fff" stroke="#bfbfbf"/>
<rect x="1640.5" y="703.5" width="141" height="26" fill="#fff" stroke="#bfbfbf"/>
<rect x="1976.5" y="703.5" width="83" height="26" fill="#fff" stroke="#000"/>
<rect x="2264.5" y="703.5" width="99" height="26" fill="#fff" stroke="#000"/>
<rect x="2386.5" y="703.5" width="51" height="26" fill="#fff" stroke="#bfbfbf"/>
<rect x="1001.5" y="780.5" width="78" height="27" fill="#fff" stroke="#000"/>
<rect x="1704.5" y="780.5" width="123" height="27" fill="#fff" stroke="#bfbfbf"/>
<rect x="1850.5" y="780.5" width="151" height="27" fill="#fff" stroke="#ff0000"/>
<rect x="2024.5" y="780.5" width="165" height="27" fill="#fff" stroke="#ff0000"/>
<rect x="2439.5" y="780.5" width="71" height="27" fill="#fff" stroke="#bfbfbf"/>
<rect x="2807.5" y="780.5" width="71" height="27" fill="#fff" stroke="#bfbfbf"/>
<rect x="891.5" y="857.5" width="157" height="27" fill="#fff" stroke="#bfbfbf"/>
<rect x="1072.5" y="857.5" width="80" height="27" fill="#fff" stroke="#bfbfbf"/>
<rect x="1536.5" y="857.5" width="64" height="27" fill="#fff" stroke="#bfbfbf"/>
</g>
<g class="t">
<text x="2205" y="23.8">baciRWlongLong.h</text>
<text x="2306" y="100.8">baciRWcontImpl_T.h</text>
<text x="2212.5" y="178.8">baciPcontImpl_T.h</text>
<text x="2397" y="178.8">baciRWcommonImpl_T.h</text>
<text x="622" y="255.8">baciMonitor_T.h</text>
<text x="2305" y="255.8">baciPcommonImpl_T.h</text>
<text x="61" y="332.8">Basic_Types.h</text>
<text x="1793" y="332.8">baci.h</text>
<text x="1046" y="410.8">ACSErrTypeMonitor.h</text>
<text x="1213" y="410.8">ACSErrTypeOK.h</text>
<text x="1394" y="410.8">algorithm</text>
<text x="1646" y="410.8">baciBACIComponent.h</text>
<text x="2348.5" y="410.8">baciError.h</text>
<text x="2522" y="410.8">baciCORBA.h</text>
<text x="826" y="487.8">baciBACIAction.h</text>
<text x="1142.5" y="487.8">baciBACICallback.h</text>
<text x="1463.5" y="487.8">baciBACIProperty.h</text>
<text x="1792.5" y="487.8">baciErrTypeProperty.h</text>
<text x="2238" y="487.8">acserr.h</text>
<text x="2498" y="487.8">tao/corba.h</text>
<text x="2698" y="487.8">tao/PortableServer/PortableServer.h</text>
<text x="3137" y="487.8">ACSErrTypeCommon.h</text>
<text x="544.5" y="564.8">baciRecovery.h</text>
<text x="761" y="564.8">deque</text>
<text x="1078.5" y="564.8">baciRegistrar.h</text>
<text x="1641" y="564.8">baciBACIMonitor.h</text>
<text x="1871.5" y="564.8">baciThread.h</text>
<text x="2522" y="564.8">archiveeventsArchiveSupplier.h</text>
<text x="334" y="642.8">baciRecoverableObject.h</text>
<text x="665" y="642.8">recoveryStore.h</text>
<text x="1062" y="642.8">baciRegistrar.i</text>
<text x="1345" y="642.8">baciValue.h</text>
<text x="1747.5" y="642.8">acsutilTimeStamp.h</text>
<text x="2269" y="642.8">acsThreadBase.h</text>
<text x="1039.5" y="719.8">baciExport.h</text>
<text x="1170" y="719.8">ace/SString.h</text>
<text x="1346" y="719.8">baciValue.i</text>
<text x="1710" y="719.8">ace/OS_NS_time.h</text>
<text x="2017" y="719.8">logging.h</text>
<text x="2313" y="719.8">baciTypes.h</text>
<text x="2411" y="719.8">map</text>
<text x="1039.5" y="796.8">acsutil.h</text>
<text x="1765" y="796.8">acscommonC.h</text>
<text x="1925" y="796.8">loggingGetLogger.h</text>
<text x="2106" y="796.8">loggingACEMACROS.h</text>
<text x="2474" y="796.8">baciC.h</text>
<text x="2842" y="796.8">baciS.h</text>
<text x="969" y="874.8">ace/Functor_String.h</text>
<text x="1111.5" y="874.8">ace/OS.h</text>
<text x="1567.5" y="874.8">vector</text>
</g>
</svg>
</body></html>
